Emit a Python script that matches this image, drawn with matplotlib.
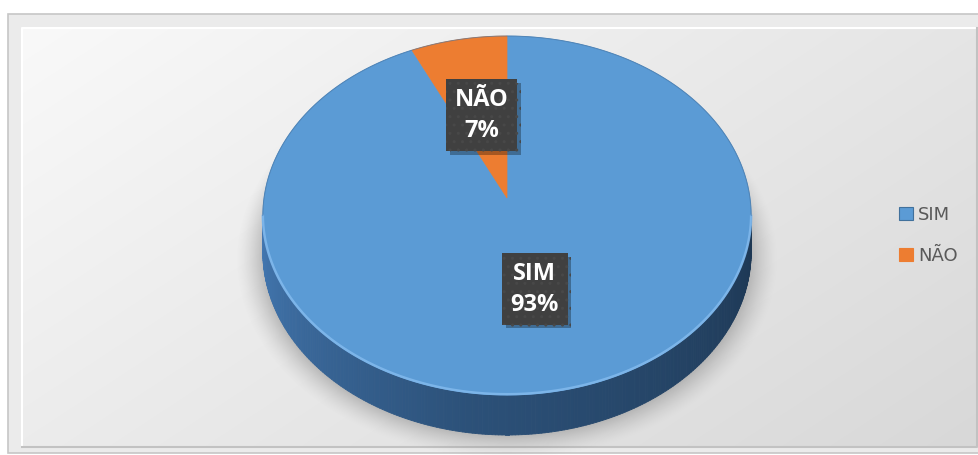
import numpy as np
import matplotlib
matplotlib.use("Agg")
import matplotlib.pyplot as plt
from matplotlib.patches import Polygon, Rectangle, Patch
from matplotlib.collections import PolyCollection
from matplotlib.colors import to_rgb
import matplotlib.patheffects as pe

# ---- data -------------------------------------------------------------
categories = ["SIM", "NÃO"]
shares = [93, 7]

# ---- styling ----------------------------------------------------------
slice_colors = ["#5b9bd5", "#ed7d31"]
side_stops = [["#4479b3", "#2c5179", "#1d3753"],
              ["#c9662a", "#9a4b1c", "#6e3412"]]
legend_edges = ["#41719c", "#ed7d31"]

W, H = 979, 455
fig = plt.figure(figsize=(W / 100, H / 100), dpi=100, facecolor="white")
ax = fig.add_axes([0, 0, 1, 1])
ax.set_axis_off()

# ---- chart frame and plot area ----------------------------------------
ax.add_patch(Rectangle((8, 14), 990, 439, facecolor="#ebebeb",
                       edgecolor="#c6c6c6", lw=1.2, zorder=0))
x0, x1, y0, y1 = 22, 977, 28, 447
GX, GY = np.meshgrid(np.linspace(0, 1, 256), np.linspace(0, 1, 128))
tt = np.clip(0.6 * GX + 0.4 * GY, 0, 1)[..., None]
c0, c1 = np.array(to_rgb("#f9f9f9")), np.array(to_rgb("#d8d8d8"))
ax.imshow(c0 + (c1 - c0) * tt, extent=(x0, x1, y1, y0), origin="upper",
          interpolation="bilinear", aspect="auto", zorder=1)
ax.plot([x0, x0, x1], [y1, y0, y0], color="white", lw=1.5, zorder=2)
ax.plot([x0, x1, x1], [y1, y1, y0], color="#c2c2c2", lw=1.5, zorder=2)

# ---- 3-D pie geometry (perspective view of a tilted disk) -------------
CX, CY = 507.0, 198.0
RX, RY = 243.0, 177.8
K = 0.0975
DEPTH = 40.0


def project(u, v, drop=0.0):
    w = 1.0 + K * np.asarray(v)
    return CX + RX * np.asarray(u) / w, CY - RY * np.asarray(v) / w + drop * (1 - K) / w


# soft shadow under the pie
yy, xx = np.mgrid[0:H, 0:W] + 0.5
Xn = (xx - CX) / RX
Yn = (CY + DEPTH - yy) / RY
vv = Yn / (1 - K * Yn)
uu = Xn * (1 + K * vv)
rr = np.hypot(uu, vv)
alpha = 0.40 * np.clip((1.11 - rr) / 0.12, 0, 1) ** 1.5
shadow = np.zeros((H, W, 4))
shadow[..., :3] = 0.40
shadow[..., 3] = alpha
ax.imshow(shadow, extent=(0, W, H, 0), origin="upper",
          interpolation="bilinear", aspect="auto", zorder=3)

fr = np.asarray(shares, float) / np.sum(shares)
bounds = 90 - 360 * np.concatenate([[0], np.cumsum(fr)])

# visible front arc: between the horizontal extremes of the outline
th_all = np.linspace(0, 2 * np.pi, 3600, endpoint=False)
ox, _ = project(np.cos(th_all), np.sin(th_all))
aL = np.degrees(th_all[np.argmin(ox)])
aR = np.degrees(th_all[np.argmax(ox)])
if aR < aL:
    aR += 360

# side wall of every slice that faces the viewer
for i in range(len(shares)):
    s_lo, s_hi = bounds[i + 1], bounds[i]
    stops = [np.array(to_rgb(c)) for c in side_stops[i]]
    for k in (-1, 0, 1):
        lo, hi = max(s_lo + 360 * k, aL), min(s_hi + 360 * k, aR)
        if hi <= lo:
            continue
        t = np.radians(np.linspace(lo, hi, 240))
        tx, ty = project(np.cos(t), np.sin(t))
        bx, by = project(np.cos(t), np.sin(t), DEPTH)
        quads, cols = [], []
        for j in range(len(t) - 1):
            quads.append([(tx[j], ty[j]), (tx[j + 1], ty[j + 1]),
                          (bx[j + 1], by[j + 1]), (bx[j], by[j])])
            s = (np.degrees(0.5 * (t[j] + t[j + 1])) - aL) / (aR - aL)
            cols.append([np.interp(s, [0, 0.45, 1], [c[n] for c in stops])
                         for n in range(3)])
        ax.add_collection(PolyCollection(quads, facecolors=cols,
                                         edgecolors=cols, lw=0.6, zorder=4))

# top faces
cx0, cy0 = project(0.0, 0.0)
for i, c in enumerate(slice_colors):
    th = np.radians(np.linspace(bounds[i], bounds[i + 1], 300))
    px, py = project(np.cos(th), np.sin(th))
    ax.add_patch(Polygon(np.column_stack([np.r_[cx0, px], np.r_[cy0, py]]),
                         closed=True, fc=c, ec=c, lw=0.5, zorder=5))

# bevel highlight on the front rim and thin back edge
t = np.radians(np.linspace(aL, aR, 400))
hx, hy = project(np.cos(t), np.sin(t))
ax.plot(hx, hy - 0.8, color="#80b8ec", lw=1.8, alpha=0.9, zorder=6,
        solid_capstyle="butt")
t = np.radians(np.linspace(aR, aL + 360, 400))
hx, hy = project(np.cos(t), np.sin(t))
ax.plot(hx, hy, color="#3f6f9f", lw=0.7, alpha=0.6, zorder=6)

# data labels
for i, cat in enumerate(categories):
    mid = np.radians(0.5 * (bounds[i] + bounds[i + 1]))
    lx, ly = project(0.5 * np.cos(mid), 0.5 * np.sin(mid))
    txt = ax.text(lx, ly, f"{cat}\n{shares[i]}%", ha="center", va="center",
                  color="white", fontsize=17, fontweight="bold",
                  family="Open Sans", linespacing=1.38, zorder=10,
                  bbox=dict(boxstyle="square,pad=0.36", fc="#404040",
                            ec="#484848", lw=0, hatch=".."))
    txt.get_bbox_patch().set_path_effects(
        [pe.SimplePatchShadow(offset=(2.5, -2.5), shadow_rgbFace="black",
                              alpha=0.3), pe.Normal()])

# legend
handles = [Patch(facecolor=c, edgecolor=e, lw=0.8)
           for c, e in zip(slice_colors, legend_edges)]
leg = ax.legend(handles, categories, loc="upper left",
                bbox_to_anchor=(899, 206), bbox_transform=ax.transData,
                frameon=False, fontsize=13, handlelength=0.75,
                handleheight=0.75, handletextpad=0.3, labelspacing=1.25,
                borderpad=0, borderaxespad=0)
for lt in leg.get_texts():
    lt.set_color("#595959")
leg.set_zorder(12)

ax.set_xlim(0, W)
ax.set_ylim(H, 0)
fig.savefig("out.png", dpi=100, facecolor="white")
